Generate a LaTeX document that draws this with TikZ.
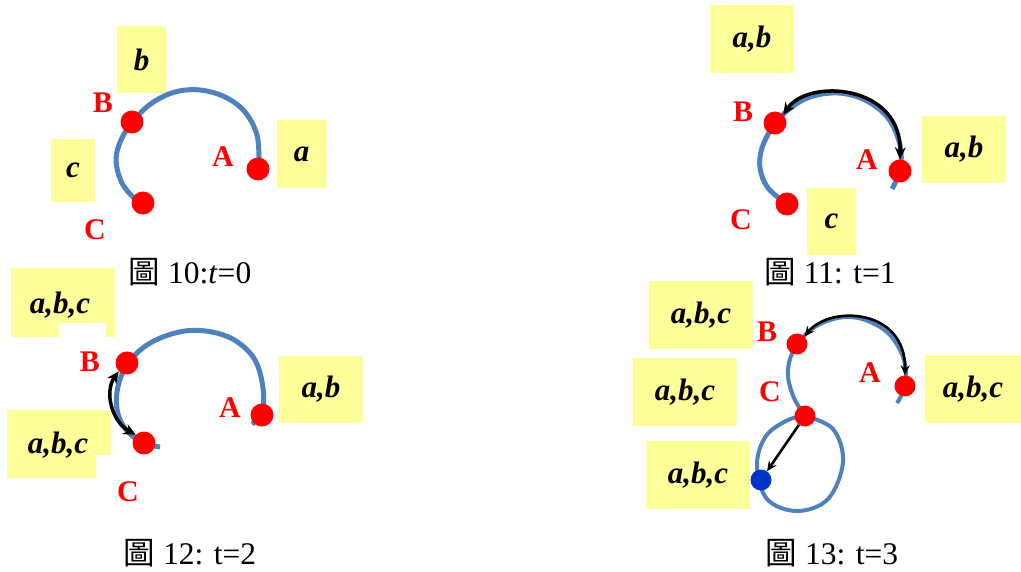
\documentclass[tikz,border=0pt]{standalone}
\usepackage{fontspec}
\setmainfont{Liberation Serif}
\newfontfamily\cjk{Noto Sans CJK TC}
\usetikzlibrary{arrows.meta}
\definecolor{arcblue}{RGB}{79,129,189}
\definecolor{boxyellow}{RGB}{255,255,153}
\definecolor{dotred}{RGB}{255,0,0}
\definecolor{dotblue}{RGB}{0,51,204}
\begin{document}
\begin{tikzpicture}[x=1pt,y=-1pt,
  yb/.style={fill=boxyellow,inner sep=0pt,font=\fontsize{31}{31}\selectfont\bfseries\itshape},
  ybt/.style={inner sep=0pt,font=\fontsize{31}{31}\selectfont\bfseries\itshape},
  lbl/.style={text=dotred,inner sep=0pt,font=\fontsize{30}{30}\selectfont\bfseries},
  captxt/.style={inner sep=0pt,font=\fontsize{31.5}{31.5}\selectfont},
  rdot/.style={circle,fill=dotred,minimum size=23pt,inner sep=0pt},
  sdot/.style={circle,fill=dotred,minimum size=21pt,inner sep=0pt},
  bdot/.style={circle,fill=dotblue,minimum size=21pt,inner sep=0pt},
  track/.style={draw=arcblue,line width=5pt},
  hop/.style={draw=black,line width=3.5pt,{Stealth[length=12pt,width=11pt]}-{Stealth[length=12pt,width=11pt]}},
  hopthin/.style={draw=black,line width=2.6pt,{Stealth[length=10pt,width=9pt]}-{Stealth[length=10pt,width=9pt]}},
  hopone/.style={draw=black,line width=2.6pt,-{Stealth[length=10pt,width=9pt]}}]
\useasboundingbox (0,0) rectangle (1021,572);
% ---------------- Panel 1 ----------------
\node[yb,minimum width=49pt,minimum height=67pt] (b1) at (141.5,59.5) {b};
\node[yb,minimum width=49pt,minimum height=68pt] (a1) at (301.5,154) {a};
\node[yb,minimum width=44pt,minimum height=63pt] (c1) at (73,170.5) {c};
\draw[track] plot[smooth,tension=0.6] coordinates {(259,162) (257,135) (245,112) (225,97) (200,90) (175,92) (152,103) (134,120) (121,140) (116,160) (121,181) (131,195) (143,204)};
\node[rdot] (B1) at (132,122) {};
\node[rdot] (A1) at (258,169) {};
\node[rdot] (C1) at (143,203) {};
\node[lbl] (lB1) at (103,103) {B};
\node[lbl] (lA1) at (223,157) {A};
\node[lbl] (lC1) at (95,230) {C};
\node[captxt] (cap1) at (190,272) {{\cjk 圖} 10:\textit{t}=0};
% ---------------- Panel 2 ----------------
\node[yb,minimum width=84pt,minimum height=68pt] (ab2a) at (752,39) {a,b};
\node[yb,minimum width=84pt,minimum height=67pt] (ab2b) at (964,149.5) {a,b};
\node[yb,minimum width=49pt,minimum height=67pt] (c2) at (831.5,221.5) {c};
\draw[track] plot[smooth,tension=0.6] coordinates {(892,189) (900,170) (900,145) (888,118) (865,100) (838,93) (810,97) (788,110) (772,128) (762,148) (760,168) (768,188) (787,204)};
\node[rdot] (B2) at (775,123) {};
\node[rdot] (A2) at (900,171) {};
\node[rdot] (C2) at (787,204) {};
\draw[hop] (B2.north east) .. controls (808,78) and (902,84) .. (A2.north);
\node[lbl] (lB2) at (743,112) {B};
\node[lbl] (lA2) at (867,160) {A};
\node[lbl] (lC2) at (741,220) {C};
\node[captxt] (cap2) at (830,272) {{\cjk 圖} 11: t=1};
% ---------------- Panel 3 ----------------
\fill[boxyellow] (11,268) -- (115,268) -- (115,337) -- (106,337) -- (106,323) -- (59,323) -- (59,337) -- (11,337) -- cycle;
\node[ybt] (abc3a) at (60,305) {a,b,c};
\fill[boxyellow] (7,410) -- (111,410) -- (111,455) -- (96,455) -- (96,478) -- (7,478) -- cycle;
\node[ybt] (abc3b) at (58,445) {a,b,c};
\node[yb,minimum width=84pt,minimum height=67pt] (ab3) at (321,389.5) {a,b};
\draw[track] plot[smooth,tension=0.6] coordinates {(252,424) (262,413) (263,388) (255,360) (236,341) (212,332) (185,331) (158,339) (138,352) (124,370) (117,392) (118,414) (128,432) (144,443) (160,447)};
\node[rdot] (B3) at (127,363) {};
\node[rdot] (A3) at (262,415) {};
\node[rdot] (C3) at (144,443) {};
\draw[hop] (B3.south west) .. controls (104,392) and (112,422) .. (C3.north west);
\node[lbl] (lB3) at (90,362) {B};
\node[lbl] (lA3) at (230,408) {A};
\node[lbl] (lC3) at (128,492) {C};
\node[captxt] (cap3) at (190,553) {{\cjk 圖} 12: t=2};
% ---------------- Panel 4 ----------------
\node[yb,minimum width=104pt,minimum height=68pt] (abc4a) at (701,315) {a,b,c};
\node[yb,minimum width=104pt,minimum height=68pt] (abc4b) at (685,392) {a,b,c};
\node[yb,minimum width=104pt,minimum height=68pt] (abc4c) at (698,475) {a,b,c};
\node[yb,minimum width=96pt,minimum height=68pt] (abc4d) at (973,389) {a,b,c};
\draw[track,line width=4pt] plot[smooth,tension=0.6] coordinates {(897,403) (905,386) (904,360) (890,335) (868,321) (845,317) (820,324) (802,338) (791,356) (788,376) (794,398) (805,416)};
\draw[track,line width=4pt] plot[smooth,tension=0.6] coordinates {(805,416) (833,429) (843,462) (828,499) (797,511) (767,499) (757,465) (766,436) (788,420) (805,416)};
\node[sdot] (B4) at (797,344) {};
\node[sdot] (A4) at (905,386) {};
\node[sdot] (C4) at (805,416) {};
\node[bdot] (D4) at (761,480) {};
\draw[hopthin] (B4.north east) .. controls (830,305) and (906,308) .. (A4.north);
\draw[hopone] (C4) -- (D4);
\node[lbl] (lB4) at (767,332) {B};
\node[lbl] (lA4) at (870,373) {A};
\node[lbl] (lC4) at (770,392) {C};
\node[captxt] (cap4) at (832,553) {{\cjk 圖} 13: t=3};
\end{tikzpicture}
\end{document}
